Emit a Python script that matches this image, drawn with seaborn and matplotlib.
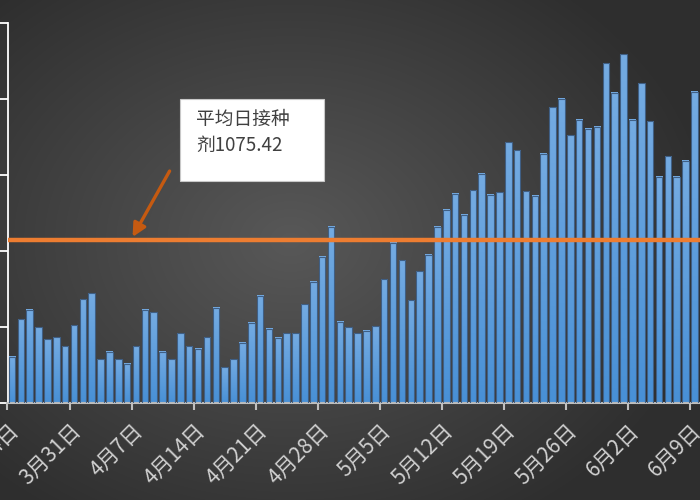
import numpy as np
import pandas as pd
import matplotlib
matplotlib.use('Agg')
import matplotlib.pyplot as plt
from matplotlib.colors import LinearSegmentedColormap
from matplotlib.patches import Rectangle
import seaborn as sns

# daily doses (starting 3月24日)
start_date = '2021-03-24'
doses = [305, 551, 612, 498, 419, 434, 375, 513, 682, 721,
         289, 336, 289, 259, 375, 612, 596, 336, 289, 458,
         373, 357, 434, 627, 235, 289, 397, 528, 706, 489,
         428, 458, 458, 651, 798, 961, 1160, 535, 498, 458,
         474, 504, 814, 1053, 939, 676, 868, 976, 1160, 1270,
         1377, 1237, 1401, 1509, 1371, 1386, 1717, 1662, 1393, 1362,
         1640, 1947, 2002, 1763, 1864, 1803, 1818, 2235, 2042, 2296,
         1864, 2103, 1855, 1487, 1623, 1487, 1594, 2048, 1824]
avg_dose = 1075.42
note_lines = ['平均日接种', '剂1075.42']

dates = pd.date_range(start_date, periods=len(doses), freq='D')
df = pd.DataFrame({'day': [d.strftime('%m-%d') for d in dates], 'doses': doses})
tick_idx = list(range(0, len(doses), 7))
tick_labels = [f'{dates[i].month}月{dates[i].day}日' for i in tick_idx]

sns.set_style('dark')
plt.rcParams['font.family'] = ['Noto Sans CJK SC', 'DejaVu Sans']

fig = plt.figure(figsize=(7, 5), dpi=100)

# radial dark-grey background
bg = fig.add_axes([0, 0, 1, 1])
bg.set_zorder(-1)
yy, xx = np.mgrid[0:500, 0:700]
r = np.sqrt(((xx - 290) / 430) ** 2 + ((yy - 240) / 330) ** 2)
g = (88 - 42 * np.clip(r, 0, 1)) / 255
bg.imshow(np.dstack([g, g, g]), aspect='auto', extent=(0, 1, 0, 1))
bg.axis('off')

ax = fig.add_axes([7.5 / 700, 97 / 500, 1 - 7.5 / 700, 380 / 500])
ax.set_facecolor('none')

sns.barplot(data=df, x='day', y='doses', color='#5a9bdc', width=0.74,
            edgecolor='#3f5f85', linewidth=0.8, ax=ax)

# per-bar vertical gradient
bar_cmap = LinearSegmentedColormap.from_list('bars', ['#4890d6', '#74abe2'])
grad = np.linspace(0, 1, 64).reshape(-1, 1)
for p in ax.patches:
    x0, w, h = p.get_x(), p.get_width(), p.get_height()
    ax.imshow(grad, extent=(x0, x0 + w, 0, h), origin='lower', cmap=bar_cmap,
              aspect='auto', zorder=2)
    p.set_facecolor('none')
    p.set_zorder(3)

ax.axhline(avg_dose, color='#ed7d31', lw=3.2, zorder=4)

ax.set_xlim(-0.5, -0.5 + 692 / 8.857)
ax.set_ylim(0, 2500)
ax.set_yticks(range(0, 2501, 500))
ax.set_yticklabels([])
ax.set_xticks([i - 0.5 for i in tick_idx])
ax.set_xticklabels(tick_labels, rotation=45, ha='right', va='top',
                   rotation_mode='anchor', color='#d0d0d0', fontsize=15)
ax.set_xlabel('')
ax.set_ylabel('')

for s in ['top', 'right']:
    ax.spines[s].set_visible(False)
ax.spines['left'].set_color('white')
ax.spines['left'].set_linewidth(1.3)
ax.spines['bottom'].set_color('#bfbfbf')
ax.spines['bottom'].set_linewidth(1.5)
ax.tick_params(axis='y', left=True, length=9, width=1.3, color='white')
ax.tick_params(axis='x', bottom=True, length=5, width=1.5, color='#bfbfbf', pad=7)

# note box and arrow
ax.add_patch(Rectangle((18.92, 1460), 16.26, 540, facecolor='white',
                       edgecolor='#c8c8c8', lw=0.8, zorder=5))
ax.text(20.8, 1868, note_lines[0], fontsize=13.5, color='#404040', va='center', zorder=6)
ax.text(20.8, 1691, note_lines[1], fontsize=13.5, color='#404040', va='center', zorder=6)
ax.annotate('', xy=(13.61, 1092), xytext=(17.79, 1526),
            arrowprops=dict(arrowstyle='-|>', color='#c55a11', lw=2.4,
                            mutation_scale=20, shrinkA=0, shrinkB=0), zorder=6)

fig.savefig('out.png', dpi=100)
